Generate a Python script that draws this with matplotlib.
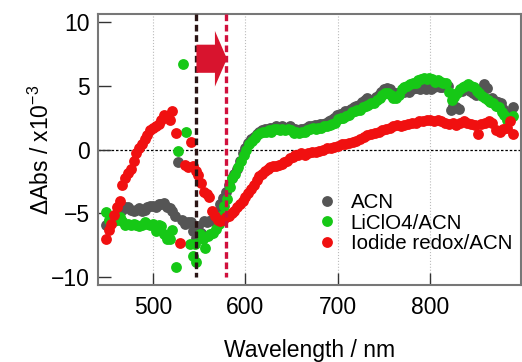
import numpy as np
import matplotlib
matplotlib.use("Agg")
import matplotlib.pyplot as plt
from matplotlib.patches import FancyArrow

plt.rcParams["font.family"] = ["Liberation Sans", "DejaVu Sans"]
plt.rcParams["mathtext.fontset"] = "custom"
plt.rcParams["mathtext.rm"] = "Liberation Sans"

# ACN (grey)
acn_wl = [449, 452, 455, 458, 461, 464, 467, 470, 473, 476, 479, 482, 485, 488, 491, 494, 497, 500,
          503, 506, 509, 512, 515, 518, 521, 524, 527, 531, 535, 538, 541, 543, 546, 549, 552, 555,
          558, 561, 564, 567, 570, 573, 576, 579, 582, 585, 588, 591, 594, 597, 600, 603, 606, 609,
          612, 615, 618, 621, 624, 627, 630, 633, 636, 639, 642, 645, 648, 651, 654, 657, 660, 663,
          666, 669, 672, 675, 678, 681, 684, 687, 690, 693, 696, 699, 702, 705, 708, 711, 714, 717,
          720, 723, 726, 729, 732, 735, 738, 741, 744, 747, 750, 753, 756, 759, 762, 765, 768, 771,
          774, 777, 780, 783, 786, 789, 792, 795, 798, 801, 804, 807, 810, 813, 816, 819, 822, 825,
          828, 831, 834, 837, 840, 843, 846, 849, 852, 855, 858, 861, 864, 867, 870, 873, 876, 879,
          882, 885, 889]
acn_val = [-5.9, -5.6, -5.5, -5.2, -5.0, -4.8, -4.7, -4.5, -4.5, -4.7, -4.8, -4.7, -4.6, -4.8, -4.7,
           -4.5, -4.4, -4.4, -4.5, -4.3, -4.3, -4.2, -4.5, -4.6, -4.8, -5.2, -1.0, -5.5, -5.8, -5.7,
           -5.7, -6.4, -6.9, -6.0, -6.5, -5.6, -5.7, -5.6, -5.5, -5.2, -4.9, -4.3, -3.8, -3.3, -2.8,
           -2.2, -1.9, -1.5, -0.9, -0.3, 0.1, 0.5, 0.8, 1.0, 1.2, 1.4, 1.5, 1.6, 1.6, 1.7, 1.7, 1.8,
           1.7, 1.8, 1.7, 1.7, 1.8, 1.6, 1.6, 1.5, 1.6, 1.6, 1.7, 1.8, 1.8, 1.9, 1.9, 2.0, 2.0, 2.1,
           2.2, 2.3, 2.5, 2.7, 2.8, 2.8, 3.0, 3.0, 3.2, 3.3, 3.4, 3.5, 3.7, 3.9, 4.0, 3.8, 3.9, 4.1,
           4.3, 4.5, 4.7, 4.8, 4.7, 4.5, 4.4, 4.4, 4.5, 4.5, 4.6, 4.5, 4.7, 4.8, 4.8, 4.7, 4.8, 4.7,
           4.8, 4.7, 4.9, 5.0, 4.9, 4.9, 5.1, 5.0, 3.1, 3.4, 3.3, 3.2, 4.6, 4.7, 4.8, 4.6, 4.4, 4.3,
           4.5, 4.7, 5.1, 4.8, 3.9, 4.0, 3.8, 3.7, 3.6, 3.2, 2.7, 2.8, 3.3]

# LiClO4/ACN (green)
licl_wl = [449, 452, 455, 458, 461, 464, 467, 470, 473, 476, 479, 482, 485, 488, 491, 494, 497, 500,
           503, 506, 509, 512, 515, 518, 521, 525, 527, 532, 536, 540, 543, 545, 547, 551, 554, 556,
           559, 562, 565, 568, 571, 574, 577, 580, 583, 586, 589, 592, 595, 598, 601, 604, 607, 610,
           613, 616, 619, 622, 625, 628, 631, 634, 637, 640, 643, 646, 649, 652, 655, 658, 661, 664,
           667, 670, 673, 676, 679, 682, 685, 688, 691, 694, 697, 700, 703, 706, 709, 712, 715, 718,
           721, 724, 727, 730, 733, 736, 739, 742, 745, 748, 751, 754, 757, 760, 763, 766, 769, 772,
           775, 778, 781, 784, 787, 790, 793, 796, 799, 802, 805, 808, 811, 814, 817, 820, 823, 826,
           829, 832, 835, 838, 841, 844, 847, 850, 853, 856, 859, 862, 865, 868, 871, 874, 877, 880,
           883, 886, 889]
licl_val = [-4.9, -5.5, -5.7, -5.6, -5.5, -5.3, -5.6, -5.9, -5.8, -5.9, -5.8, -5.9, -6.0, -5.9, -5.7,
            -5.8, -5.9, -5.8, -6.4, -5.9, -6.0, -6.6, -7.0, -7.0, -6.3, -9.2, -0.1, 6.7, 1.4, -7.4,
            -8.3, -7.4, -8.8, -6.6, -7.0, -7.7, -6.8, -6.6, -6.5, -6.2, -5.8, -5.2, -4.4, -3.9, -2.9,
            -2.2, -1.9, -1.4, -0.9, -0.4, 0.0, 0.4, 0.7, 0.9, 1.1, 1.3, 1.4, 1.4, 1.5, 1.4, 1.6, 1.6,
            1.5, 1.6, 1.5, 1.6, 1.5, 1.3, 1.4, 1.3, 1.4, 1.4, 1.5, 1.6, 1.7, 1.6, 1.7, 1.7, 1.8, 1.8,
            1.9, 2.0, 2.1, 2.4, 2.5, 2.5, 2.6, 2.7, 2.9, 3.0, 3.1, 3.1, 3.3, 3.4, 3.5, 3.6, 3.6, 3.9,
            4.0, 4.3, 4.4, 4.4, 4.3, 4.0, 4.0, 4.3, 4.7, 4.9, 5.0, 5.1, 5.2, 5.2, 5.4, 5.5, 5.6, 5.5,
            5.6, 5.5, 5.3, 5.4, 5.3, 5.2, 5.2, 4.5, 3.9, 4.1, 4.4, 4.7, 4.9, 5.0, 5.1, 5.0, 4.9, 4.6,
            4.4, 4.2, 4.0, 3.9, 3.7, 3.6, 3.4, 3.3, 2.9, 2.7, 2.3, 2.5, 2.6]

# Iodide redox/ACN (red)
iod_wl = [449, 452, 455, 458, 461, 464, 467, 470, 473, 476, 479, 482, 485, 488, 491, 494, 497, 500,
          503, 506, 509, 512, 515, 518, 521, 525, 529, 535, 538, 541, 543, 546, 549, 552, 555, 558,
          561, 564, 567, 570, 573, 576, 579, 582, 585, 588, 591, 594, 597, 600, 603, 606, 609, 612,
          615, 618, 621, 624, 627, 630, 633, 636, 639, 642, 645, 648, 651, 654, 657, 660, 664, 668,
          672, 676, 680, 684, 688, 692, 696, 700, 704, 708, 712, 716, 720, 724, 728, 732, 736, 740,
          744, 748, 752, 756, 760, 764, 768, 772, 776, 780, 784, 788, 792, 796, 800, 804, 808, 812,
          816, 820, 824, 828, 832, 836, 840, 844, 848, 851, 855, 859, 863, 867, 871, 875, 879, 883,
          886, 889]
iod_val = [-7.0, -6.3, -5.8, -5.1, -4.5, -4.0, -2.8, -2.2, -1.8, -1.5, -0.9, -0.3, 0.1, 0.4, 0.8,
           1.1, 1.5, 1.7, 1.8, 2.0, 2.3, 2.7, 2.6, 2.3, 3.0, 1.3, -7.3, -1.2, -1.4, 0.6, -1.3, -1.7,
           -2.0, -2.6, -3.3, -3.5, -3.7, -4.8, -5.2, -5.5, -5.6, -5.5, -5.3, -5.2, -5.0, -4.8, -4.5,
           -4.3, -4.0, -3.7, -3.4, -3.1, -2.8, -2.4, -2.1, -1.9, -1.7, -1.5, -1.4, -1.3, -1.3, -1.2,
           -1.1, -1.0, -0.9, -0.7, -0.6, -0.4, -0.4, -0.3, -0.4, -0.3, -0.2, -0.2, -0.1, 0.0, 0.1,
           0.1, 0.2, 0.3, 0.4, 0.4, 0.5, 0.6, 0.7, 0.8, 1.0, 1.1, 1.2, 1.3, 1.4, 1.5, 1.6, 1.7, 1.8,
           1.9, 1.8, 1.9, 2.0, 2.1, 2.1, 2.2, 2.2, 2.3, 2.3, 2.2, 2.3, 2.2, 2.1, 2.0, 2.1, 1.9, 2.1,
           2.2, 2.1, 2.0, 1.9, 1.2, 2.0, 2.1, 2.2, 2.1, 1.5, 1.4, 1.6, 1.7, 2.2, 1.2]

fig = plt.figure(figsize=(5.22, 3.62), dpi=100)
ax = fig.add_axes([0.1877, 0.2127, 0.8103, 0.7486])

for x in [500, 600, 700, 800]:
    ax.axvline(x, color="#bbbbbb", lw=0.8, ls=":", zorder=0)
ax.axhline(0, color="black", lw=0.9, ls=(0, (2, 1.5)), zorder=1)

ax.plot(acn_wl, acn_val, "o", ls="none", color="#555555", ms=7.8, mec="none", label="ACN", zorder=2)
ax.plot(licl_wl, licl_val, "o", ls="none", color="#16c816", ms=7.8, mec="none", label="LiClO4/ACN", zorder=3)
ax.plot(iod_wl, iod_val, "o", ls="none", color="#f01010", ms=7.8, mec="none", label="Iodide redox/ACN", zorder=4)

ax.plot([547, 547], [10.6, -10.0], color="#2a1414", lw=2.4, ls=(0, (2, 1.1)), zorder=5)
ax.plot([578.5, 578.5], [10.6, -10.0], color="#d0103c", lw=2.4, ls=(0, (2, 1.1)), zorder=5)
ax.add_patch(FancyArrow(547, 7.1, 33, 0, width=2.2, head_width=4.35, head_length=13,
                        length_includes_head=True, color="#d8142e", lw=0, zorder=6))

ax.set_xlim(440.5, 898)
ax.set_ylim(-10.6, 10.6)
ax.set_xticks([500, 600, 700, 800])
ax.set_yticks([-10, -5, 0, 5, 10])
ax.tick_params(direction="in", length=9, width=1.0, labelsize=16.5, color="#333333")
ax.tick_params(axis="x", pad=8)
ax.tick_params(axis="y", pad=6)
for s in ax.spines.values():
    s.set_color("#777777")
    s.set_linewidth(1.5)

ax.set_xlabel("Wavelength / nm", fontsize=16.5)
ax.set_ylabel("ΔAbs / x10$^{\\mathrm{-3}}$", fontsize=16.5)
ax.xaxis.set_label_coords(0.5, -0.2)
ax.yaxis.set_label_coords(-0.105, 0.5)

ax.legend(loc="upper left", bbox_to_anchor=(0.5, 0.37), frameon=False, fontsize=14.8,
          handletextpad=0.7, labelspacing=0.08, handlelength=0.9, borderaxespad=0)

fig.savefig("out.png", dpi=100)
